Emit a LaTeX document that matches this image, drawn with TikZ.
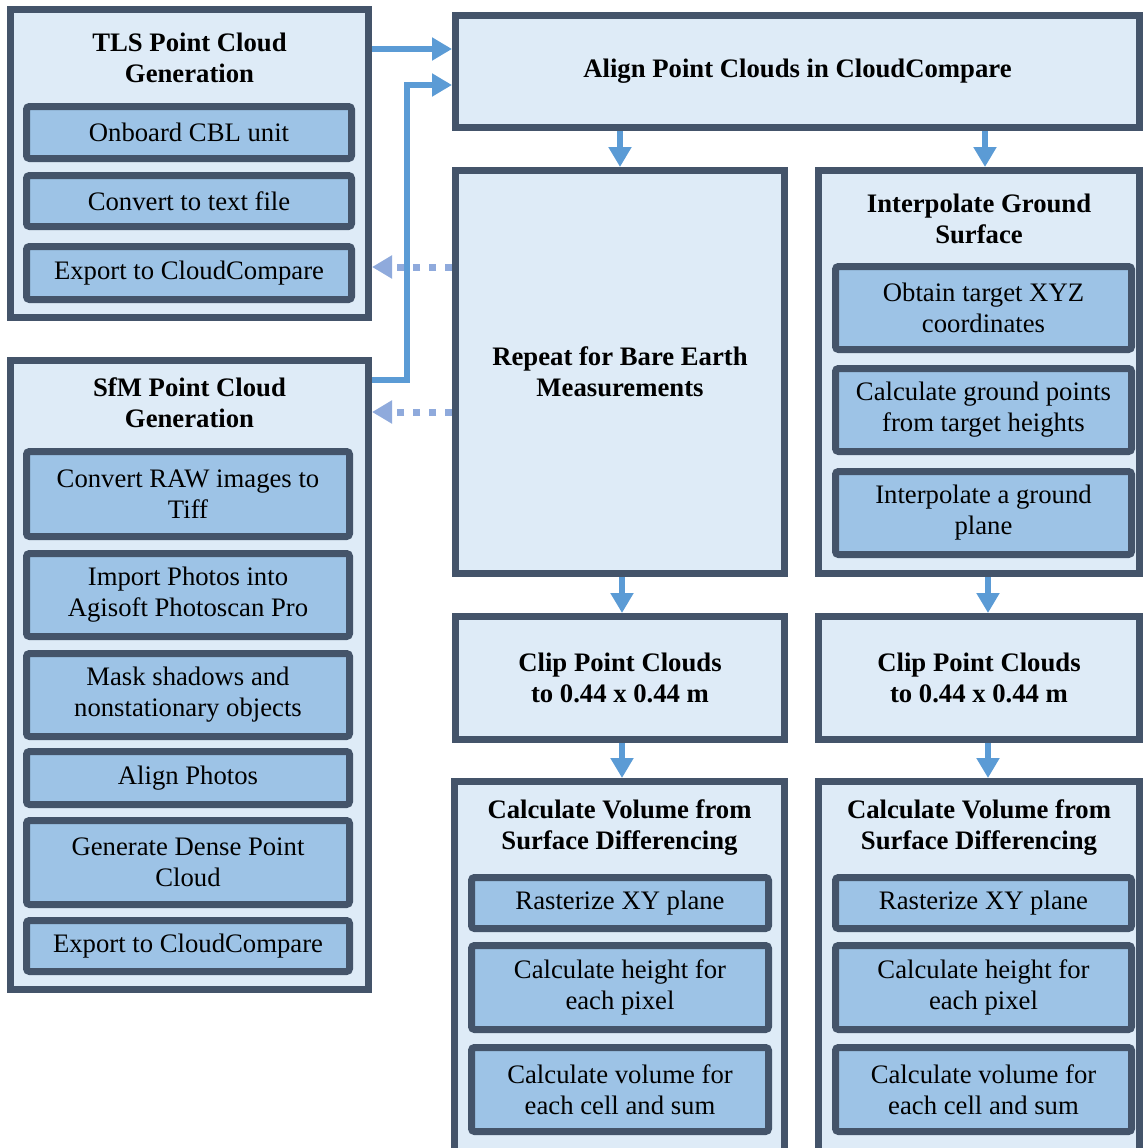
\documentclass[tikz,border=0pt]{standalone}
\usepackage{fontspec}
\setmainfont{Liberation Serif}
\newfontfamily\tnr{Liberation Serif}
\usetikzlibrary{arrows.meta}
\definecolor{frame}{HTML}{44546A}
\definecolor{outerfill}{HTML}{DEEBF7}
\definecolor{subfill}{HTML}{9DC3E6}
\definecolor{arrowblue}{HTML}{5B9BD5}
\definecolor{dotblue}{HTML}{8FAADC}
\tikzset{
  every node/.style={font=\tnr\fontsize{26.7pt}{31pt}\selectfont},
  outerbox/.style={draw=frame, fill=outerfill, line width=7pt, inner sep=0pt, align=center, font=\tnr\fontsize{26.7pt}{31pt}\selectfont\bfseries},
  subbox/.style={draw=frame, fill=subfill, line width=7pt, rounded corners=3pt, inner sep=0pt, align=center},
  titletext/.style={inner sep=0pt, align=center, font=\tnr\fontsize{26.7pt}{31pt}\selectfont\bfseries},
  arr/.style={draw=arrowblue, line width=6.5pt, -{Triangle[length=20pt,width=22pt]}},
  dotarr/.style={draw=dotblue, line width=7pt, dash pattern=on 7pt off 9pt, -{Triangle[length=20pt,width=22pt]}},
}
\begin{document}
\begin{tikzpicture}[x=1pt,y=-1pt]
\useasboundingbox (0,0) rectangle (1144,1148);
\clip (0,0) rectangle (1144,1148);
\fill[white] (0,0) rectangle (1144,1148);

% TLS
\node[outerbox, minimum width=358pt, minimum height=308pt] (tls) at (189.5,163.5) {};
\node[titletext] (tlst) at (189.5,58) {TLS Point Cloud\\Generation};
\node[subbox, minimum width=325pt, minimum height=52pt] (tls1) at (189,132.5) {Onboard CBL unit};
\node[subbox, minimum width=325pt, minimum height=51pt] (tls2) at (189,201) {Convert to text file};
\node[subbox, minimum width=325pt, minimum height=53pt] (tls3) at (189,273) {Export to CloudCompare};

% Align
\node[outerbox, minimum width=684pt, minimum height=112pt] (align) at (797.5,71.5) {Align Point Clouds in CloudCompare};

% SfM
\node[outerbox, minimum width=358pt, minimum height=629pt] (sfm) at (189.5,675) {};
\node[titletext] (sfmt) at (189.5,402.5) {SfM Point Cloud\\Generation};
\node[subbox, minimum width=323pt, minimum height=85pt] (sfm1) at (188,494) {Convert RAW images to\\Tiff};
\node[subbox, minimum width=323pt, minimum height=83pt] (sfm2) at (188,595) {Import Photos into\\Agisoft Photoscan Pro};
\node[subbox, minimum width=323pt, minimum height=83pt] (sfm3) at (188,695) {Mask shadows and\\nonstationary objects};
\node[subbox, minimum width=323pt, minimum height=53pt] (sfm4) at (188,778) {Align Photos};
\node[subbox, minimum width=323pt, minimum height=84pt] (sfm5) at (188,862.5) {Generate Dense Point\\Cloud};
\node[subbox, minimum width=323pt, minimum height=51pt] (sfm6) at (188,946) {Export to CloudCompare};

% Repeat
\node[outerbox, minimum width=329pt, minimum height=403pt] (rep) at (620,372) {Repeat for Bare Earth\\Measurements};

% Interpolate
\node[outerbox, minimum width=321pt, minimum height=403pt] (interp) at (979,372) {};
\node[titletext] (interpt) at (979,219) {Interpolate Ground\\Surface};
\node[subbox, minimum width=296pt, minimum height=83pt] (ip1) at (983.5,308) {Obtain target XYZ\\coordinates};
\node[subbox, minimum width=296pt, minimum height=83pt] (ip2) at (983.5,410) {Calculate ground points\\from target heights};
\node[subbox, minimum width=296pt, minimum height=83pt] (ip3) at (983.5,513) {Interpolate a ground\\plane};

% Clip
\node[outerbox, minimum width=329pt, minimum height=123pt] (clipl) at (620,678) {Clip Point Clouds\\to 0.44 x 0.44 m};
\node[outerbox, minimum width=321pt, minimum height=123pt] (clipr) at (979,678) {Clip Point Clouds\\to 0.44 x 0.44 m};

% Calculate volume (left)
\node[outerbox, minimum width=330pt, minimum height=390pt] (calcl) at (619.5,976.5) {};
\node[titletext] (calclt) at (619.5,827.5) {Calculate Volume from\\Surface Differencing};
\node[subbox, minimum width=297pt, minimum height=51pt] (cl1) at (620,903) {Rasterize XY plane};
\node[subbox, minimum width=297pt, minimum height=84pt] (cl2) at (620,987.5) {Calculate height for\\each pixel};
\node[subbox, minimum width=297pt, minimum height=84pt] (cl3) at (620,1089.5) {Calculate volume for\\each cell and sum};

% Calculate volume (right)
\node[outerbox, minimum width=321pt, minimum height=390pt] (calcr) at (979,976.5) {};
\node[titletext] (calcrt) at (979,827.5) {Calculate Volume from\\Surface Differencing};
\node[subbox, minimum width=296pt, minimum height=51pt] (cr1) at (983.5,903) {Rasterize XY plane};
\node[subbox, minimum width=296pt, minimum height=84pt] (cr2) at (983.5,987.5) {Calculate height for\\each pixel};
\node[subbox, minimum width=296pt, minimum height=84pt] (cr3) at (983.5,1089.5) {Calculate volume for\\each cell and sum};

% helper coordinates
\coordinate (y49) at (0,49);
\coordinate (y85) at (0,85);
\coordinate (y380) at (0,380);
\coordinate (y267) at (0,267);
\coordinate (y412) at (0,412);
\coordinate (xl) at (622,0);
\coordinate (xr) at (985,0);
\coordinate (xr2) at (988,0);

% dotted feedback arrows
\draw[dotarr] (rep.west |- y267) -- (tls.east |- y267);
\draw[dotarr] (rep.west |- y412) -- (sfm.east |- y412);

% solid arrows
\draw[arr] (tls.east |- y49) -- (align.west |- y49);
\draw[arr] (sfm.east |- y380) -- ++(35,0) |- (align.west |- y85);
\draw[arr] (rep.north |- align.south) -- (rep.north);
\draw[arr] (xr |- align.south) -- (xr |- interp.north);
\draw[arr] (xl |- rep.south) -- (xl |- clipl.north);
\draw[arr] (xl |- clipl.south) -- (xl |- calcl.north);
\draw[arr] (xr2 |- interp.south) -- (xr2 |- clipr.north);
\draw[arr] (xr2 |- clipr.south) -- (xr2 |- calcr.north);
\end{tikzpicture}
\end{document}
